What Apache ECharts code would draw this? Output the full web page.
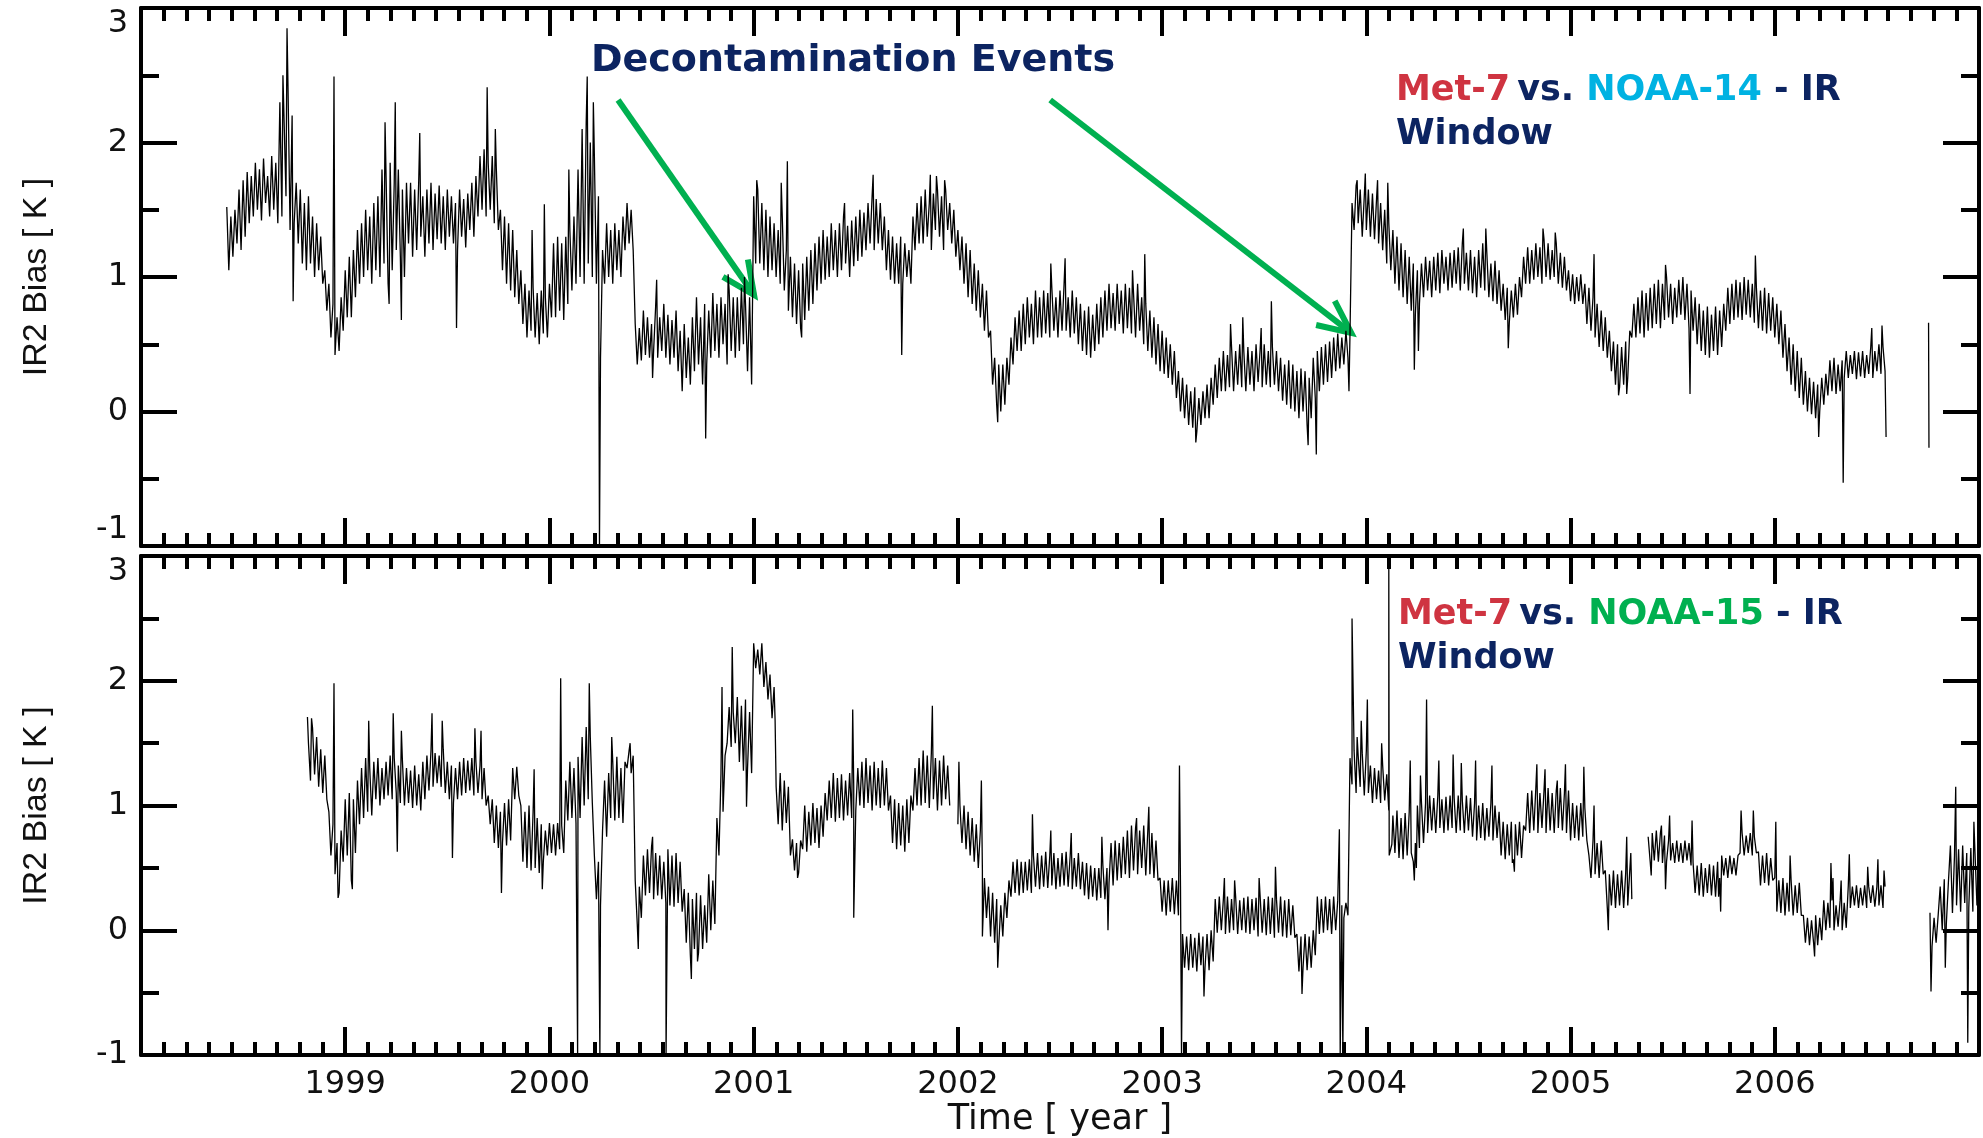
<!DOCTYPE html>
<html>
<head>
<meta charset="utf-8">
<title>Met-7 IR2 bias vs NOAA-14 / NOAA-15</title>
<script src="https://cdn.jsdelivr.net/npm/echarts@6/dist/echarts.min.js"></script>
<style>
  html, body { margin: 0; padding: 0; background: #fff; }
  #chart { width: 1983px; height: 1138px; }
</style>
</head>
<body>
<div id="chart"></div>
<script>
// time axis is in decimal years, bias in K
const yearTicks = [1999, 2000, 2001, 2002, 2003, 2004, 2005, 2006];
const biasTicks = [-1, 0, 1, 2, 3];
const step = 0.01;

// Met-7 vs NOAA-14, one value every 0.01 yr from 1998.42 (null = no data)
const noaa14Start = 1998.42;
const noaa14 = [
  1.52, 1.05, 1.45, 1.15, 1.50, 1.25, 1.65, 1.20, 1.72, 1.30,
  1.78, 1.40, 1.75, 1.45, 1.85, 1.50, 1.80, 1.42, 1.88, 1.55,
  1.75, 1.45, 1.90, 1.50, 1.85, 1.40, 2.30, 1.45, 2.50, 1.60,
  2.40, 1.35, 2.20, 1.40, 1.70, 1.25, 1.65, 1.10, 1.55, 1.05,
  1.60, 1.10, 1.45, 1.00, 1.40, 1.05, 1.30, 0.95, 1.05, 0.75,
  0.95, 0.55, 0.80, 0.42, 0.70, 0.45, 0.85, 0.60, 1.05, 0.70,
  1.15, 0.70, 1.20, 0.85, 1.35, 0.95, 1.40, 1.00, 1.50, 1.05,
  1.45, 0.95, 1.55, 1.05, 1.60, 1.00, 1.80, 1.10, 1.75, 0.95,
  1.85, 1.05, 1.70, 1.20, 1.80, 1.15, 1.65, 1.00, 1.70, 1.25,
  1.70, 1.15, 1.65, 1.20, 1.72, 1.30, 1.60, 1.15, 1.65, 1.25,
  1.70, 1.20, 1.62, 1.28, 1.68, 1.25, 1.60, 1.20, 1.65, 1.30,
  1.60, 1.25, 1.55, 1.20, 1.65, 1.30, 1.58, 1.22, 1.62, 1.35,
  1.70, 1.30, 1.75, 1.45, 1.90, 1.50, 1.95, 1.45, 1.85, 1.50,
  1.90, 1.40, 1.80, 1.35, 1.50, 1.05, 1.45, 0.95, 1.40, 0.90,
  1.35, 0.85, 1.20, 0.80, 1.05, 0.65, 0.95, 0.55, 0.90, 0.60,
  0.92, 0.55, 0.88, 0.50, 0.90, 0.58, 0.85, 0.55, 0.95, 0.70,
  1.25, 0.70, 1.30, 0.75, 1.25, 0.68, 1.30, 0.80, 1.35, 0.90,
  1.45, 0.95, 1.80, 1.00, 2.10, 0.95, 2.15, 1.10, 2.00, 1.00,
  1.90, 0.95, 1.60, 0.40, 1.20, 0.95, 1.40, 1.00, 1.35, 0.95,
  1.40, 1.05, 1.35, 1.00, 1.45, 1.20, 1.55, 1.25, 1.50, 1.20,
  0.65, 0.35, 0.62, 0.38, 0.75, 0.42, 0.70, 0.40, 0.65, 0.45,
  0.78, 0.40, 0.70, 0.45, 0.80, 0.40, 0.72, 0.35, 0.68, 0.40,
  0.75, 0.30, 0.60, 0.15, 0.65, 0.25, 0.55, 0.20, 0.70, 0.30,
  0.85, 0.35, 0.70, 0.20, 0.80, 0.35, 0.75, 0.40, 0.88, 0.45,
  0.80, 0.40, 0.85, 0.50, 0.80, 0.35, 0.90, 0.45, 0.85, 0.40,
  0.85, 0.45, 0.92, 0.50, 0.80, 0.30, 0.85, 0.20, 1.60, 1.10,
  1.65, 1.10, 1.55, 1.05, 1.50, 1.00, 1.45, 1.05, 1.40, 1.00,
  1.35, 0.95, 1.45, 0.90, 1.20, 0.75, 1.15, 0.70, 1.10, 0.65,
  1.05, 0.62, 1.10, 0.68, 1.15, 0.75, 1.20, 0.80, 1.25, 0.90,
  1.30, 0.95, 1.35, 0.98, 1.30, 1.00, 1.40, 1.05, 1.35, 1.00,
  1.40, 1.05, 1.45, 1.10, 1.38, 1.00, 1.42, 1.08, 1.45, 1.12,
  1.50, 1.15, 1.48, 1.20, 1.55, 1.25, 1.60, 1.20, 1.58, 1.25,
  1.55, 1.20, 1.45, 1.05, 1.35, 0.98, 1.30, 0.95, 1.25, 0.95,
  1.30, 0.95, 1.25, 1.00, 1.20, 0.95, 1.45, 1.20, 1.55, 1.25,
  1.60, 1.25, 1.65, 1.30, 1.55, 1.20, 1.62, 1.35, 1.65, 1.30,
  1.60, 1.20, 1.65, 1.35, 1.55, 1.25, 1.50, 1.15, 1.35, 1.05,
  1.30, 0.95, 1.25, 0.85, 1.20, 0.80, 1.10, 0.75, 1.05, 0.70,
  0.95, 0.60, 0.90, 0.55, 0.60, 0.20, 0.40, 0.05, 0.35, 0.00,
  0.35, 0.05, 0.40, 0.20, 0.55, 0.35, 0.70, 0.45, 0.75, 0.45,
  0.80, 0.50, 0.85, 0.55, 0.80, 0.50, 0.90, 0.55, 0.85, 0.55,
  0.90, 0.58, 0.88, 0.55, 0.92, 0.60, 0.85, 0.55, 0.90, 0.60,
  0.95, 0.60, 0.85, 0.55, 0.90, 0.58, 0.85, 0.50, 0.80, 0.45,
  0.75, 0.42, 0.78, 0.40, 0.72, 0.45, 0.80, 0.50, 0.85, 0.55,
  0.90, 0.60, 0.95, 0.62, 0.88, 0.60, 0.95, 0.65, 0.90, 0.58,
  0.95, 0.62, 0.92, 0.58, 0.88, 0.55, 0.95, 0.60, 0.85, 0.50,
  0.80, 0.45, 0.75, 0.40, 0.70, 0.35, 0.65, 0.30, 0.60, 0.28,
  0.55, 0.25, 0.50, 0.20, 0.45, 0.10, 0.30, 0.00, 0.25, -0.05,
  0.20, -0.10, 0.15, -0.12, 0.18, -0.15, 0.10, -0.10, 0.15, -0.05,
  0.20, -0.05, 0.25, 0.05, 0.35, 0.10, 0.40, 0.15, 0.45, 0.15,
  0.42, 0.18, 0.48, 0.15, 0.45, 0.20, 0.50, 0.18, 0.45, 0.15,
  0.48, 0.20, 0.45, 0.15, 0.50, 0.22, 0.46, 0.18, 0.50, 0.20,
  0.45, 0.18, 0.48, 0.20, 0.45, 0.15, 0.40, 0.08, 0.35, 0.05,
  0.38, 0.02, 0.35, 0.00, 0.30, -0.05, 0.32, 0.00, 0.30, -0.10,
  0.25, -0.05, 0.40, 0.10, 0.45, 0.15, 0.48, 0.20, 0.50, 0.22,
  0.52, 0.25, 0.55, 0.30, 0.58, 0.32, 0.55, 0.35, 0.60, 0.40,
  0.58, 1.55, 1.35, 1.68, 1.40, 1.65, 1.30, 1.60, 1.35, 1.65,
  1.30, 1.62, 1.28, 1.58, 1.25, 1.55, 1.20, 1.50, 1.10, 1.40,
  1.05, 1.35, 0.95, 1.30, 0.90, 1.25, 0.85, 1.20, 0.80, 1.15,
  0.75, 1.10, 0.72, 1.05, 0.80, 1.10, 0.85, 1.15, 0.90, 1.12,
  0.85, 1.15, 0.90, 1.18, 0.88, 1.20, 0.95, 1.15, 0.90, 1.18,
  0.92, 1.20, 0.95, 1.22, 0.90, 1.25, 0.95, 1.18, 0.90, 1.20,
  0.88, 1.15, 0.85, 1.20, 0.92, 1.25, 0.90, 1.18, 0.85, 1.10,
  0.82, 1.12, 0.80, 1.05, 0.75, 0.95, 0.68, 0.92, 0.66, 0.90,
  0.70, 0.95, 0.72, 1.00, 0.85, 1.15, 0.95, 1.22, 0.95, 1.20,
  0.98, 1.25, 1.00, 1.22, 0.95, 1.28, 1.00, 1.25, 0.98, 1.20,
  1.00, 1.25, 0.95, 1.18, 0.92, 1.15, 0.90, 1.05, 0.82, 1.02,
  0.80, 1.00, 0.82, 1.02, 0.80, 0.95, 0.65, 0.92, 0.60, 0.85,
  0.55, 0.80, 0.48, 0.75, 0.45, 0.70, 0.40, 0.60, 0.30, 0.52,
  0.20, 0.50, 0.18, 0.48, 0.20, 0.52, 0.25, 0.60, 0.55, 0.80,
  0.55, 0.85, 0.58, 0.90, 0.55, 0.88, 0.60, 0.92, 0.62, 0.95,
  0.65, 0.98, 0.62, 0.95, 0.68, 1.00, 0.70, 0.95, 0.65, 0.92,
  0.70, 0.98, 0.72, 1.00, 0.68, 0.95, 0.62, 0.90, 0.60, 0.85,
  0.50, 0.80, 0.45, 0.75, 0.42, 0.78, 0.40, 0.72, 0.45, 0.78,
  0.42, 0.75, 0.48, 0.80, 0.60, 0.92, 0.65, 0.95, 0.68, 0.98,
  0.70, 0.96, 0.68, 1.00, 0.72, 0.98, 0.70, 0.95, 0.66, 0.92,
  0.62, 0.90, 0.60, 0.92, 0.58, 0.88, 0.60, 0.85, 0.55, 0.80,
  0.50, 0.75, 0.40, 0.65, 0.30, 0.55, 0.20, 0.50, 0.15, 0.45,
  0.10, 0.40, 0.05, 0.30, 0.00, 0.25, -0.02, 0.22, -0.05, 0.20,
  0.00, 0.25, 0.05, 0.28, 0.12, 0.38, 0.15, 0.40, 0.13, 0.35,
  0.15, 0.38, 0.25, 0.45, 0.25, 0.42, 0.28, 0.45, 0.24, 0.44,
  0.26, 0.45, 0.25, 0.42, 0.28, 0.48, 0.25, 0.45, 0.30, 0.50,
  0.28, 0.48, 0.30,
  null, null, null, null, null, null, null, null, null, null, null,
  null, null, null, null, null, null, null, null, null, null, null
];
// single-day excursions between the regular samples
const noaa14Spikes = [
  [1998.695, 2.50], [1998.715, 2.85], [1998.745, 0.82], [1998.945, 2.49],
  [1999.195, 2.15], [1999.215, 0.80], [1999.245, 2.30], [1999.275, 0.68],
  [1999.365, 2.07], [1999.545, 0.62], [1999.695, 2.41], [1999.735, 2.10],
  [1999.915, 1.35], [1999.975, 1.54], [2000.095, 1.80], [2000.185, 2.49],
  [2000.215, 2.30], [2000.245, -1.0], [2000.505, 0.25], [2000.525, 0.98],
  [2000.765, -0.20], [2000.875, 1.02], [2000.955, 1.00], [2001.015, 1.72],
  [2001.135, 1.70], [2001.165, 1.86], [2001.235, 0.55], [2001.445, 1.55],
  [2001.585, 1.76], [2001.725, 0.42], [2001.865, 1.76], [2001.895, 1.75],
  [2001.935, 1.72], [2002.195, -0.08], [2002.455, 1.10], [2002.525, 1.14],
  [2002.855, 1.05], [2002.915, 1.17], [2003.165, -0.23], [2003.335, 0.65],
  [2003.395, 0.70], [2003.485, 0.62], [2003.535, 0.82], [2003.715, -0.25],
  [2003.755, -0.32], [2003.915, 0.15], [2003.955, 1.72], [2003.995, 1.77],
  [2004.055, 1.72], [2004.105, 1.70], [2004.235, 0.31], [2004.255, 0.45],
  [2004.475, 1.36], [2004.585, 1.36], [2004.695, 0.47], [2004.865, 1.36],
  [2004.925, 1.33], [2005.115, 1.17], [2005.235, 0.12], [2005.275, 0.13],
  [2005.465, 1.09], [2005.585, 0.13], [2005.905, 1.16], [2006.215, -0.19],
  [2006.335, -0.53], [2006.475, 0.62], [2006.525, 0.64], [2006.545, -0.19],
  [2006.753, 0.66], [2006.755, -0.27]
];

// Met-7 vs NOAA-15, one value every 0.01 yr from 1998.82
const noaa15Start = 1998.82;
const noaa15 = [
  1.50, 1.20, 1.62, 1.25, 1.55, 1.15, 1.45, 1.10, 1.40, 1.05,
  0.95, 0.60, 0.85, 0.45, 0.70, 0.30, 0.80, 0.55, 1.05, 0.60,
  1.10, 0.40, 1.05, 0.62, 1.20, 0.85, 1.30, 0.90, 1.38, 0.95,
  1.30, 0.92, 1.35, 1.05, 1.38, 1.00, 1.30, 1.05, 1.35, 1.08,
  1.40, 1.05, 1.38, 1.10, 1.32, 1.02, 1.36, 1.00, 1.30, 1.02,
  1.28, 0.98, 1.32, 1.00, 1.25, 0.96, 1.35, 1.05, 1.40, 1.12,
  1.44, 1.15, 1.42, 1.18, 1.40, 1.15, 1.45, 1.10, 1.35, 1.05,
  1.32, 1.02, 1.30, 1.05, 1.35, 1.08, 1.38, 1.10, 1.36, 1.12,
  1.38, 1.08, 1.35, 1.10, 1.32, 1.05, 1.30, 1.00, 1.08, 0.85,
  1.05, 0.70, 1.00, 0.66, 0.95, 0.70, 1.02, 0.68, 1.05, 0.72,
  1.30, 1.05, 1.31, 1.08, 1.00, 0.55, 0.95, 0.50, 1.00, 0.48,
  0.95, 0.50, 0.90, 0.46, 0.85, 0.55, 0.80, 0.60, 0.86, 0.62,
  0.85, 0.60, 0.86, 0.65, 0.84, 0.62, 1.20, 0.88, 1.35, 0.90,
  1.30, 0.86, 1.39, 0.90, 1.55, 1.00, 1.63, 1.05, 1.55, 1.02,
  0.60, 0.25, 0.55, 0.20, 0.80, 1.20, 0.75, 1.26, 0.90, 1.35,
  0.88, 1.39, 0.90, 1.30, 0.86, 1.35, 1.30, 1.44, 1.26, 1.40,
  0.40, 0.05, 0.35, 0.10, 0.60, 0.28, 0.65, 0.30, 0.67, 0.25,
  0.62, 0.28, 0.60, 0.25, 0.55, 0.22, 0.65, 0.20, 0.60, 0.19,
  0.62, 0.22, 0.55, 0.15, 0.33, -0.10, 0.30, -0.20, 0.25, -0.15,
  0.30, -0.18, 0.28, -0.15, 0.20, -0.10, 0.45, 0.00, 0.40, 0.05,
  0.90, 0.60, 1.26, 0.95, 1.40, 1.50, 1.79, 1.47, 1.75, 1.50,
  1.87, 1.35, 1.80, 1.28, 1.85, 1.30, 1.75, 1.26, 2.30, 2.10,
  2.25, 2.05, 2.30, 1.95, 2.15, 1.85, 2.05, 1.70, 1.95, 1.15,
  0.85, 1.26, 0.80, 1.20, 0.86, 1.15, 0.60, 0.73, 0.48, 0.70,
  0.46, 0.72, 0.65, 1.00, 0.63, 0.95, 0.68, 1.02, 0.70, 0.98,
  0.66, 1.00, 0.75, 1.10, 0.88, 1.20, 0.90, 1.26, 0.87, 1.22,
  0.90, 1.25, 0.88, 1.20, 0.92, 1.26, 0.90, 1.15, 0.96, 1.30,
  1.00, 1.35, 0.98, 1.38, 1.02, 1.32, 0.96, 1.35, 1.00, 1.30,
  0.98, 1.36, 1.00, 1.30, 0.96, 1.08, 0.70, 1.05, 0.65, 1.02,
  0.68, 1.00, 0.63, 1.05, 0.70, 1.08, 0.96, 1.30, 1.00, 1.38,
  1.00, 1.44, 1.02, 1.40, 0.98, 1.42, 1.05, 1.38, 0.96, 1.36,
  1.00, 1.40, 1.05, 1.32, 1.00, null, null, null, 0.85, 1.00,
  0.70, 1.00, 0.65, 0.95, 0.60, 0.90, 0.55, 0.85, 0.50, 0.80,
  0.48, 0.42, 0.10, 0.35, -0.05, 0.30, -0.10, 0.25, -0.12, 0.20,
  -0.05, 0.30, 0.10, 0.40, 0.27, 0.55, 0.30, 0.57, 0.28, 0.55,
  0.30, 0.55, 0.32, 0.57, 0.30, 0.60, 0.35, 0.62, 0.33, 0.60,
  0.35, 0.63, 0.34, 0.60, 0.36, 0.62, 0.33, 0.58, 0.35, 0.62,
  0.36, 0.63, 0.35, 0.60, 0.33, 0.58, 0.35, 0.62, 0.33, 0.55,
  0.28, 0.54, 0.25, 0.52, 0.27, 0.50, 0.24, 0.50, 0.26, 0.52,
  0.25, 0.50, 0.38, 0.70, 0.36, 0.72, 0.40, 0.70, 0.42, 0.75,
  0.45, 0.80, 0.42, 0.84, 0.48, 0.82, 0.45, 0.80, 0.50, 0.84,
  0.44, 0.80, 0.45, 0.78, 0.42, 0.72, 0.40, 0.42, 0.15, 0.40,
  0.12, 0.40, 0.15, 0.42, 0.13, 0.40, 0.12, 0.35, -0.03, -0.30,
  -0.05, -0.32, -0.03, -0.30, -0.06, -0.33, -0.02, -0.28, -0.05, -0.30,
  -0.03, -0.32, 0.00, -0.25, 0.25, -0.02, 0.27, 0.00, 0.25, -0.03,
  0.27, -0.02, 0.25, 0.00, 0.27, -0.03, 0.24, 0.00, 0.26, -0.02,
  0.27, -0.03, 0.25, 0.00, 0.26, -0.05, 0.27, -0.02, 0.25, -0.04,
  0.27, -0.03, 0.26, -0.06, 0.25, -0.02, 0.27, -0.05, 0.24, -0.06,
  0.25, -0.04, 0.20, -0.06, -0.03, -0.33, -0.05, -0.30, -0.03, -0.32,
  -0.05, -0.30, 0.00, -0.20, 0.27, -0.03, 0.25, -0.02, 0.27, 0.00,
  0.25, -0.03, 0.27, 0.00, 0.24, -0.02, 0.20, 0.10, 0.22, 0.12,
  1.38, 1.17, 1.44, 1.10, 1.40, 1.15, 1.42, 1.08, 1.44, 1.10,
  1.32, 1.02, 1.30, 1.05, 1.28, 1.02, 1.32, 1.04, 1.25, 0.96,
  0.60, 0.92, 0.62, 0.96, 0.58, 0.90, 0.57, 0.94, 0.60, 0.95,
  0.62, 0.55, 0.70, 1.00, 0.66, 1.02, 0.70, 1.02, 0.78, 1.08,
  0.80, 1.06, 0.78, 1.08, 0.82, 1.05, 0.78, 1.07, 0.80, 1.08,
  0.82, 1.06, 0.78, 1.08, 0.80, 1.04, 0.78, 1.08, 0.80, 1.06,
  0.75, 1.02, 0.72, 1.00, 0.74, 1.02, 0.72, 0.98, 0.75, 1.02,
  0.72, 1.00, 0.74, 0.95, 0.60, 0.87, 0.57, 0.85, 0.60, 0.87,
  0.57, 0.85, 0.60, 0.87, 0.58, 0.84, 0.80, 1.10, 0.78, 1.12,
  0.80, 1.14, 0.78, 1.10, 0.82, 1.12, 0.78, 1.14, 0.80, 1.10,
  0.78, 1.12, 0.82, 1.14, 0.80, 1.10, 0.78, 1.12, 0.72, 1.02,
  0.74, 1.00, 0.72, 1.02, 0.75, 0.98, 0.72, 0.60, 0.42, 0.72,
  0.45, 0.70, 0.42, 0.72, 0.45, 0.48, 0.18, 0.45, 0.20, 0.48,
  0.18, 0.45, 0.20, 0.48, 0.18, 0.46, 0.20, 0.48, 0.25, null,
  null, null, null, null, null, null, 0.75, 0.55, 0.78, 0.56,
  0.80, 0.55, 0.78, 0.54, 0.76, 0.55, 0.72, 0.56, 0.70, 0.54,
  0.72, 0.55, 0.70, 0.54, 0.72, 0.56, 0.70, 0.52, 0.54, 0.30,
  0.52, 0.28, 0.54, 0.27, 0.50, 0.30, 0.53, 0.28, 0.52, 0.27,
  0.55, 0.42, 0.60, 0.44, 0.58, 0.42, 0.60, 0.45, 0.58, 0.44,
  0.60, 0.62, 0.78, 0.60, 0.76, 0.62, 0.78, 0.60, 0.75, 0.62,
  0.63, 0.36, 0.60, 0.38, 0.62, 0.36, 0.58, 0.40, 0.42, 0.15,
  0.40, 0.14, 0.42, 0.12, 0.38, 0.15, 0.40, 0.12, 0.36, 0.14,
  0.38, 0.12, 0.12, -0.10, 0.10, -0.12, 0.08, -0.10, 0.12, -0.12,
  0.10, -0.08, 0.24, 0.00, 0.22, 0.02, 0.24, 0.00, 0.20, 0.03,
  0.24, 0.00, 0.22, 0.02, 0.36, 0.18, 0.35, 0.20, 0.36, 0.18,
  0.34, 0.20, 0.36, 0.18, 0.35, 0.22, 0.36, 0.19, 0.35, 0.20,
  0.36, 0.18, 0.35,
  null, null, null, null, null, null, null, null, null, null, null,
  null, null, null, null, null, null, null, null, null, null,
  0.14, -0.13, 0.10, -0.10, 0.12, 0.35, 0.00, 0.41, 0.05, 0.38,
  0.68, 0.14, 0.60, 0.20, 0.65, 0.15, 0.68, 0.22, 0.62, 0.18,
  0.66, 0.15, 0.64, 0.20, 0.60
];
const noaa15Spikes = [
  [1998.815, 1.71], [1998.835, 1.70], [1998.945, 1.98], [1998.965, 0.26],
  [1999.035, 0.33], [1999.115, 1.68], [1999.235, 1.74], [1999.255, 0.63],
  [1999.275, 1.60], [1999.425, 1.74], [1999.475, 1.68], [1999.525, 0.58],
  [1999.635, 1.62], [1999.665, 1.60], [1999.765, 0.30], [1999.925, 1.29],
  [1999.965, 0.33], [2000.055, 2.02], [2000.138, -1.0], [2000.195, 1.98],
  [2000.247, -1.0], [2000.305, 1.55], [2000.395, 1.50], [2000.435, -0.15],
  [2000.505, 0.75], [2000.571, -1.0], [2000.695, -0.39], [2000.725, -0.25],
  [2000.845, 1.95], [2000.895, 2.27], [2000.965, 0.99], [2001.105, 1.68],
  [2001.215, 0.42], [2001.485, 1.77], [2001.49, 0.10], [2001.875, 1.80],
  [2002.005, 1.35], [2002.115, 1.20], [2002.12, -0.05], [2002.195, -0.30],
  [2002.365, 0.93], [2002.455, 0.80], [2002.555, 0.78], [2002.705, 0.75],
  [2002.735, 0.00], [2002.875, 0.90], [2002.935, 0.99], [2003.085, 1.32],
  [2003.095, -1.0], [2003.205, -0.53], [2003.305, 0.42], [2003.355, 0.40],
  [2003.475, 0.42], [2003.555, 0.51], [2003.685, -0.51], [2003.868, 0.81],
  [2003.872, -1.0], [2003.885, -1.0], [2003.93, 2.50], [2003.955, 1.55],
  [2003.975, 1.68], [2004.005, 1.85], [2004.075, 1.50], [2004.11, 2.97],
  [2004.112, 0.60], [2004.125, 0.69], [2004.215, 1.36], [2004.235, 0.40],
  [2004.245, 0.50], [2004.265, 1.24], [2004.295, 1.85], [2004.355, 1.36],
  [2004.425, 1.41], [2004.465, 1.34], [2004.535, 1.36], [2004.615, 1.32],
  [2004.715, 0.54], [2004.725, 0.47], [2004.835, 1.33], [2004.875, 1.29],
  [2004.935, 1.20], [2004.975, 1.33], [2005.065, 1.31], [2005.115, 1.00],
  [2005.185, 0.00], [2005.275, 0.75], [2005.295, 0.62], [2005.395, 0.44],
  [2005.445, 0.84], [2005.465, 0.33], [2005.485, 0.92], [2005.595, 0.88],
  [2005.725, 0.27], [2005.735, 0.15], [2005.835, 0.96], [2005.895, 0.96],
  [2006.005, 0.87], [2006.075, 0.60], [2006.195, -0.21], [2006.275, 0.54],
  [2006.285, 0.42], [2006.325, 0.40], [2006.365, 0.61], [2006.455, 0.51],
  [2006.505, 0.57], [2006.535, 0.48],
  [2006.765, -0.49], [2006.835, -0.30], [2006.886, 1.15], [2006.945, -0.90],
  [2006.975, 0.87]
];

// decontamination arrows, [year, K] of tail and tip (top panel)
const arrowTails = [[2000.336, 2.316], [2002.452, 2.316]];
const arrowTips = [[2001.002, 0.866], [2003.926, 0.584]];

const navy = '#0c2461';
const red = '#cf3441';
const cyan = '#00b2e2';
const green = '#00b050';
const tickFont = 'DejaVu Sans';

function buildSeries(start, values, spikes) {
  const pts = values.map((v, i) => [Math.round((start + i * step) * 1000) / 1000, v]);
  return pts.concat(spikes).sort((a, b) => a[0] - b[0]);
}

function xAxisFor(gridIndex, position, withLabels) {
  return {
    type: 'value', gridIndex, position,
    min: 1998, max: 2007, interval: 1,
    name: withLabels ? 'Time [ year ]' : '',
    nameLocation: 'middle', nameGap: 44,
    nameTextStyle: { fontFamily: tickFont, fontSize: 35, color: '#111' },
    axisLine: { show: true, onZero: false, lineStyle: { color: '#000', width: 4 } },
    axisTick: { show: true, inside: true, length: 28, lineStyle: { color: '#000', width: 4 } },
    minorTick: { show: true, splitNumber: 9, length: 13, lineStyle: { color: '#000', width: 4 } },
    splitLine: { show: false },
    minorSplitLine: { show: false },
    axisLabel: {
      show: withLabels, margin: 14,
      fontFamily: tickFont, fontSize: 32, color: '#111',
      formatter: v => yearTicks.includes(v) ? String(v) : ''
    }
  };
}

function yAxisFor(gridIndex, position, withLabels, topPanel) {
  return {
    type: 'value', gridIndex, position,
    min: biasTicks[0], max: biasTicks[biasTicks.length - 1], interval: 1,
    name: withLabels ? 'IR2 Bias [ K ]' : '',
    nameLocation: 'middle', nameGap: 87, nameRotate: 90,
    nameTextStyle: { fontFamily: '"Liberation Sans Narrow", "Liberation Sans", Arial', fontSize: 34, color: '#111' },
    axisLine: { show: true, onZero: false, lineStyle: { color: '#000', width: 4 } },
    axisTick: { show: true, inside: true, length: 36, lineStyle: { color: '#000', width: 4 } },
    minorTick: { show: true, splitNumber: 2, length: 18, lineStyle: { color: '#000', width: 4 } },
    splitLine: { show: false },
    minorSplitLine: { show: false },
    axisLabel: {
      show: withLabels, margin: 13,
      fontFamily: tickFont, fontSize: 32, color: '#111',
      verticalAlignMaxLabel: 'top',
      verticalAlignMinLabel: topPanel ? 'bottom' : 'middle'
    }
  };
}

const lineStyle = { color: '#000', width: 1.3 };

const option = {
  backgroundColor: '#fff',
  animation: false,
  grid: [
    { left: 141, right: 4, top: 8, height: 538 },
    { left: 141, right: 4, top: 556, height: 507 }
  ],
  xAxis: [
    xAxisFor(0, 'bottom', false),
    xAxisFor(0, 'top', false),
    xAxisFor(1, 'bottom', true),
    xAxisFor(1, 'top', false)
  ],
  yAxis: [
    yAxisFor(0, 'left', true, true),
    yAxisFor(0, 'right', false, true),
    yAxisFor(1, 'left', true, false),
    yAxisFor(1, 'right', false, false)
  ],
  series: [
    {
      name: 'Met-7 vs. NOAA-14', type: 'line', xAxisIndex: 0, yAxisIndex: 0,
      data: buildSeries(noaa14Start, noaa14, noaa14Spikes),
      showSymbol: false, symbol: 'none', connectNulls: false, silent: true,
      lineStyle
    },
    {
      name: 'Met-7 vs. NOAA-15', type: 'line', xAxisIndex: 2, yAxisIndex: 2,
      data: buildSeries(noaa15Start, noaa15, noaa15Spikes),
      showSymbol: false, symbol: 'none', connectNulls: false, silent: true,
      lineStyle
    }
  ]
};

const chart = echarts.init(document.getElementById('chart'));
chart.setOption(option);

function arrow(tail, tip) {
  const a = chart.convertToPixel({ xAxisIndex: 0, yAxisIndex: 0 }, tail);
  const b = chart.convertToPixel({ xAxisIndex: 0, yAxisIndex: 0 }, tip);
  const back = Math.atan2(a[1] - b[1], a[0] - b[0]);
  const len = 36, spread = 25 * Math.PI / 180;
  const w1 = [b[0] + len * Math.cos(back + spread), b[1] + len * Math.sin(back + spread)];
  const w2 = [b[0] + len * Math.cos(back - spread), b[1] + len * Math.sin(back - spread)];
  const style = { stroke: green, lineWidth: 6, fill: 'none', lineJoin: 'miter' };
  return [
    { type: 'polyline', shape: { points: [a, b] }, style },
    { type: 'polyline', shape: { points: [w1, b, w2] }, style }
  ];
}

function richPart(color) {
  return { fill: color, color, fontWeight: 'bold', fontSize: 35, fontFamily: 'DejaVu Sans' };
}

function pairLabel(x, y, noaa, noaaColor) {
  return [
    {
      type: 'text', x, y,
      style: {
        text: '{r|Met-7}{n|\u2009vs. }{c|' + noaa + '}{n| - IR}',
        font: 'bold 35px "DejaVu Sans"',
        verticalAlign: 'middle', align: 'left',
        rich: { r: richPart(red), n: richPart(navy), c: richPart(noaaColor) }
      }
    },
    {
      type: 'text', x, y: y + 44,
      style: { text: 'Window', font: 'bold 35px "DejaVu Sans"', fill: navy, verticalAlign: 'middle', align: 'left' }
    }
  ];
}

const graphics = [
  {
    type: 'text', x: 591, y: 61,
    style: { text: 'Decontamination Events', font: 'bold 38px "DejaVu Sans"', fill: navy, verticalAlign: 'middle', align: 'left' }
  },
  ...pairLabel(1396, 91, 'NOAA-14', cyan),
  ...pairLabel(1398, 615, 'NOAA-15', green)
];
arrowTails.forEach((t, i) => graphics.push(...arrow(t, arrowTips[i])));

chart.setOption({ graphic: graphics });
</script>
</body>
</html>
